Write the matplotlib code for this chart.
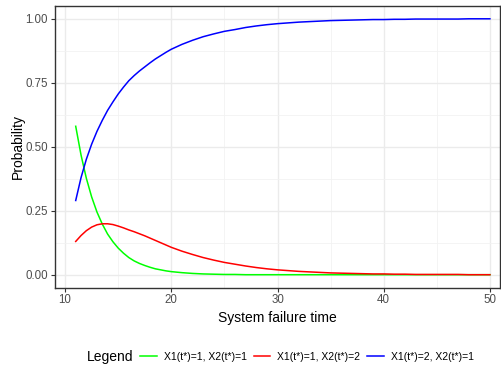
import numpy as np
import matplotlib
matplotlib.use("Agg")
import matplotlib.pyplot as plt
from matplotlib.ticker import MultipleLocator

plt.rcParams["font.family"] = ["Liberation Sans", "DejaVu Sans"]

# failure time grid and state probabilities
t = [11, 11.5, 12, 12.5, 13, 13.5, 14, 14.5, 15, 15.5, 16, 16.5, 17, 17.5,
     18, 18.5, 19, 19.5, 20,
     21, 22, 23, 24, 25, 26, 27, 28, 29, 30, 31, 32, 33, 34, 35, 36, 37,
     38, 39, 40, 41, 42, 43, 44, 45, 46, 47, 48, 49, 50]
p11 = [0.580, 0.468, 0.377, 0.304, 0.245, 0.198, 0.159, 0.129, 0.104, 0.084,
       0.067, 0.054, 0.044, 0.036, 0.029, 0.023, 0.019, 0.015, 0.012,
       0.008, 0.005, 0.003, 0.002, 0.001,
       0.001, 0, 0, 0, 0, 0, 0, 0, 0, 0, 0, 0, 0, 0, 0, 0, 0, 0, 0, 0, 0, 0,
       0, 0, 0]
p12 = [0.130, 0.153, 0.172, 0.186, 0.195, 0.199, 0.199, 0.196, 0.190, 0.183,
       0.175, 0.168, 0.160, 0.152, 0.143, 0.134, 0.125, 0.116, 0.107,
       0.092, 0.079, 0.067, 0.057, 0.048,
       0.041, 0.034, 0.028, 0.023, 0.019, 0.016, 0.013, 0.011, 0.009, 0.007,
       0.006, 0.005, 0.004, 0.003, 0.003, 0.002, 0.002, 0.001, 0.001, 0.001,
       0.001, 0.001, 0, 0, 0]
p21 = [0.290, 0.379, 0.451, 0.510, 0.560, 0.603, 0.642, 0.675, 0.706, 0.733,
       0.758, 0.778, 0.796, 0.812, 0.828, 0.843, 0.856, 0.869, 0.881,
       0.900, 0.916, 0.930, 0.941, 0.951,
       0.958, 0.966, 0.972, 0.977, 0.981, 0.984, 0.987, 0.989, 0.991, 0.993,
       0.994, 0.995, 0.996, 0.997, 0.997, 0.998, 0.998, 0.999, 0.999, 0.999,
       0.999, 0.999, 1.0, 1.0, 1.0]
labels = ["X1(t*)=1, X2(t*)=1", "X1(t*)=1, X2(t*)=2", "X1(t*)=2, X2(t*)=1"]
colors = ["#00FF00", "#FF0000", "#0000FF"]

fig = plt.figure(figsize=(5.01, 3.69), dpi=100)
ax = fig.add_axes([55 / 501, 1 - 287.5 / 369, 445 / 501, 281.5 / 369])

for y, lab, c in zip([p11, p12, p21], labels, colors):
    ax.plot(t, y, color=c, lw=1.1, label=lab)

ax.set_xlim(9.05, 50.95)
ax.set_ylim(-0.05, 1.05)
ax.xaxis.set_major_locator(MultipleLocator(10))
ax.xaxis.set_minor_locator(MultipleLocator(5))
ax.yaxis.set_minor_locator(MultipleLocator(0.125))
ax.set_yticks([0, 0.25, 0.5, 0.75, 1.0])
ax.set_yticklabels(["0.00", "0.25", "0.50", "0.75", "1.00"])
ax.grid(which="major", color="#EBEBEB", lw=1.0)
ax.grid(which="minor", color="#F2F2F2", lw=0.6)
ax.set_axisbelow(True)
for s in ax.spines.values():
    s.set_color("#333333")
    s.set_linewidth(1.0)
ax.tick_params(which="major", length=3, width=0.8, color="#333333",
               labelsize=8.3, labelcolor="#4D4D4D", pad=2)
ax.tick_params(which="minor", length=0)

ax.set_xlabel("System failure time", fontsize=10, labelpad=3)
ax.set_ylabel("Probability", fontsize=10, labelpad=0.5)

fig.text(87 / 501, 1 - 357 / 369, "Legend", fontsize=10, va="center", ha="left")
fig.legend(loc="center", bbox_to_anchor=(307 / 501, 1 - 357 / 369), ncol=3,
           frameon=False, fontsize=7.5, handlelength=1.6, handletextpad=0.67,
           columnspacing=0.67, borderaxespad=0, borderpad=0)

fig.savefig("out.png", dpi=100)
